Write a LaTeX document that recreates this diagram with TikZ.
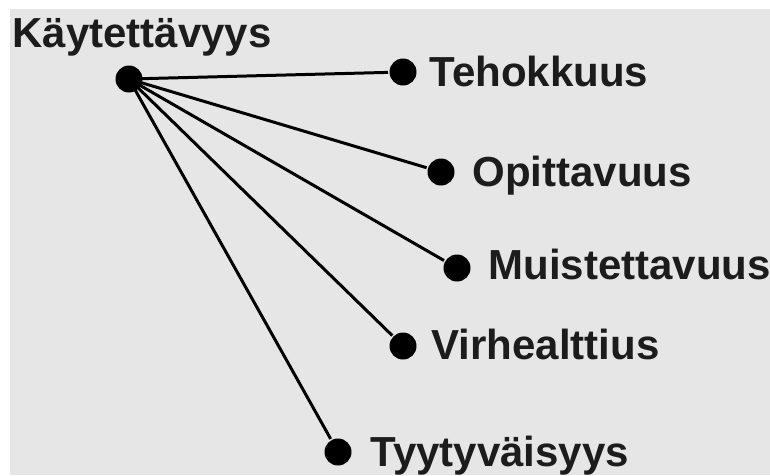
\documentclass[tikz,border=0pt]{standalone}
\usepackage{fontspec}
\setmainfont{Liberation Sans}
\definecolor{panel}{HTML}{E6E6E6}
\definecolor{ink}{HTML}{1C1C1C}

\begin{document}
\begin{tikzpicture}[x=1pt,y=-1pt,
					line width=3pt,
					dot/.style={circle,fill=black,inner sep=0pt,minimum size=27pt},
					term/.style={anchor=base west,inner sep=0pt,text=ink,
					             font=\fontsize{42}{42}\selectfont\bfseries}]

  % backdrop
  \fill[white] (0,0) rectangle (770,475);
  \fill[panel] (10,9) rectangle (770,475);
  \useasboundingbox (0,0) rectangle (770,475);

  \node[dot] (kay) at (129,79) {};
  \node[dot] (teho) at (403,72) {};
  \node[dot] (opit) at (441,172) {};
  \node[dot] (muis) at (457,268) {};
  \node[dot] (virh) at (403,346) {};
  \node[dot] (tyyt) at (338,452) {};

  \node[term] (kayL) at (11,47) {Käytettävyys};
  \node[term] (tehoL) at (428,86) {Tehokkuus};
  \node[term] (opitL) at (471,186) {Opittavuus};
  \node[term] (muisL) at (487,279) {Muistettavuus};
  \node[term] (virhL) at (430,359) {Virhealttius};
  \node[term] (tyytL) at (369,466) {Tyytyväisyys};

  \path[draw]
    (kay.center) edge (teho)
                 edge (opit)
                 edge (muis)
                 edge (virh)
                 edge (tyyt);
\end{tikzpicture}
\end{document}
